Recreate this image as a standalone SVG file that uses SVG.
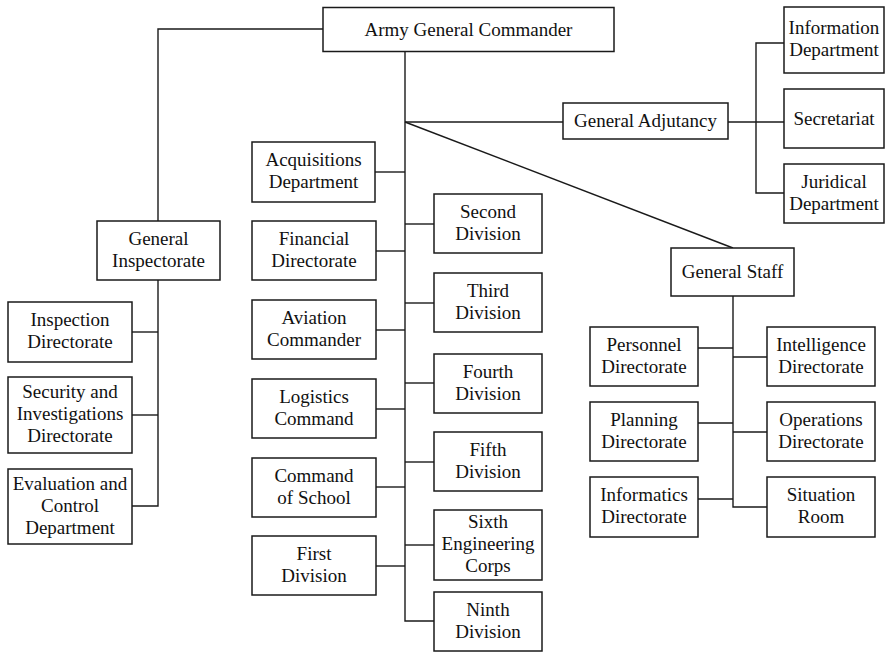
<svg xmlns="http://www.w3.org/2000/svg" width="895" height="652" viewBox="0 0 895 652">
  <style>
    .box rect { fill: #ffffff; stroke: #1a1a1a; stroke-width: 1.5; }
    .box text { font-family: "Liberation Serif", "Times New Roman", serif; font-size: 19px; fill: #111111; text-anchor: middle; }
    #connectors path { fill: none; stroke: #1a1a1a; stroke-width: 1.4; }
  </style>
  <rect width="895" height="652" fill="#ffffff"/>

  <g id="connectors">
    <!-- Commander to General Inspectorate -->
    <path d="M323,29 H158 V221"/>
    <path d="M158,280 V506 H132"/>
    <path d="M158,332 H132"/>
    <path d="M158,415 H132"/>
    <!-- Commander trunk -->
    <path d="M405,52 V621 H434"/>
    <path d="M405,172 H375"/>
    <path d="M405,251 H376"/>
    <path d="M405,330 H376"/>
    <path d="M405,409 H376"/>
    <path d="M405,487 H376"/>
    <path d="M405,566 H376"/>
    <path d="M405,224 H434"/>
    <path d="M405,303 H434"/>
    <path d="M405,383 H434"/>
    <path d="M405,462 H434"/>
    <path d="M405,545 H434"/>
    <!-- General Adjutancy branch -->
    <path d="M405,122 H563"/>
    <path d="M728,122 H784"/>
    <path d="M784,43 H756 V193 H784"/>
    <!-- General Staff branch -->
    <path d="M405,122 L733,248"/>
    <path d="M733,296 V507 H767"/>
    <path d="M698,348 H733"/>
    <path d="M698,423 H733"/>
    <path d="M698,499 H733"/>
    <path d="M733,357 H767"/>
    <path d="M733,432 H767"/>
  </g>

  <g id="army-general-commander" class="box">
    <rect x="323" y="7.5" width="291" height="44"/>
    <text x="468.5" y="36">Army General Commander</text>
  </g>

  <!-- Inspectorate column -->
  <g id="general-inspectorate" class="box">
    <rect x="97" y="221" width="123" height="59"/>
    <text x="158.5" y="245">General</text>
    <text x="158.5" y="267">Inspectorate</text>
  </g>
  <g id="inspection-directorate" class="box">
    <rect x="8" y="302" width="124" height="60"/>
    <text x="70" y="326">Inspection</text>
    <text x="70" y="348">Directorate</text>
  </g>
  <g id="security-investigations-directorate" class="box">
    <rect x="8" y="377" width="124" height="76"/>
    <text x="70" y="398">Security and</text>
    <text x="70" y="420">Investigations</text>
    <text x="70" y="442">Directorate</text>
  </g>
  <g id="evaluation-control-department" class="box">
    <rect x="8" y="469" width="124" height="75"/>
    <text x="70" y="490">Evaluation and</text>
    <text x="70" y="512">Control</text>
    <text x="70" y="534">Department</text>
  </g>

  <!-- Left of trunk -->
  <g id="acquisitions-department" class="box">
    <rect x="252" y="142" width="123" height="60"/>
    <text x="313.5" y="166">Acquisitions</text>
    <text x="313.5" y="188">Department</text>
  </g>
  <g id="financial-directorate" class="box">
    <rect x="252" y="221" width="124" height="59"/>
    <text x="314" y="245">Financial</text>
    <text x="314" y="267">Directorate</text>
  </g>
  <g id="aviation-commander" class="box">
    <rect x="252" y="300" width="124" height="59"/>
    <text x="314" y="324">Aviation</text>
    <text x="314" y="346">Commander</text>
  </g>
  <g id="logistics-command" class="box">
    <rect x="252" y="379" width="124" height="59"/>
    <text x="314" y="403">Logistics</text>
    <text x="314" y="425">Command</text>
  </g>
  <g id="command-of-school" class="box">
    <rect x="252" y="458" width="124" height="59"/>
    <text x="314" y="482">Command</text>
    <text x="314" y="504">of School</text>
  </g>
  <g id="first-division" class="box">
    <rect x="252" y="536" width="124" height="59"/>
    <text x="314" y="560">First</text>
    <text x="314" y="582">Division</text>
  </g>

  <!-- Right of trunk -->
  <g id="second-division" class="box">
    <rect x="434" y="194" width="108" height="59"/>
    <text x="488" y="218">Second</text>
    <text x="488" y="240">Division</text>
  </g>
  <g id="third-division" class="box">
    <rect x="434" y="273" width="108" height="59"/>
    <text x="488" y="297">Third</text>
    <text x="488" y="319">Division</text>
  </g>
  <g id="fourth-division" class="box">
    <rect x="434" y="354" width="108" height="59"/>
    <text x="488" y="378">Fourth</text>
    <text x="488" y="400">Division</text>
  </g>
  <g id="fifth-division" class="box">
    <rect x="434" y="432" width="108" height="59"/>
    <text x="488" y="456">Fifth</text>
    <text x="488" y="478">Division</text>
  </g>
  <g id="sixth-engineering-corps" class="box">
    <rect x="434" y="510" width="108" height="70"/>
    <text x="488" y="528">Sixth</text>
    <text x="488" y="550">Engineering</text>
    <text x="488" y="572">Corps</text>
  </g>
  <g id="ninth-division" class="box">
    <rect x="434" y="592" width="108" height="59"/>
    <text x="488" y="616">Ninth</text>
    <text x="488" y="638">Division</text>
  </g>

  <!-- General Adjutancy -->
  <g id="general-adjutancy" class="box">
    <rect x="563" y="103" width="165" height="36"/>
    <text x="645.5" y="127">General Adjutancy</text>
  </g>
  <g id="information-department" class="box">
    <rect x="784" y="7" width="100" height="66"/>
    <text x="834" y="34">Information</text>
    <text x="834" y="56">Department</text>
  </g>
  <g id="secretariat" class="box">
    <rect x="784" y="89" width="100" height="59"/>
    <text x="834" y="125">Secretariat</text>
  </g>
  <g id="juridical-department" class="box">
    <rect x="784" y="164" width="100" height="59"/>
    <text x="834" y="188">Juridical</text>
    <text x="834" y="210">Department</text>
  </g>

  <!-- General Staff -->
  <g id="general-staff" class="box">
    <rect x="671" y="248" width="123" height="48"/>
    <text x="732.5" y="278">General Staff</text>
  </g>
  <g id="personnel-directorate" class="box">
    <rect x="590" y="327" width="108" height="59"/>
    <text x="644" y="351">Personnel</text>
    <text x="644" y="373">Directorate</text>
  </g>
  <g id="planning-directorate" class="box">
    <rect x="590" y="402" width="108" height="59"/>
    <text x="644" y="426">Planning</text>
    <text x="644" y="448">Directorate</text>
  </g>
  <g id="informatics-directorate" class="box">
    <rect x="590" y="477" width="108" height="60"/>
    <text x="644" y="501">Informatics</text>
    <text x="644" y="523">Directorate</text>
  </g>
  <g id="intelligence-directorate" class="box">
    <rect x="767" y="327" width="108" height="59"/>
    <text x="821" y="351">Intelligence</text>
    <text x="821" y="373">Directorate</text>
  </g>
  <g id="operations-directorate" class="box">
    <rect x="767" y="402" width="108" height="59"/>
    <text x="821" y="426">Operations</text>
    <text x="821" y="448">Directorate</text>
  </g>
  <g id="situation-room" class="box">
    <rect x="767" y="477" width="108" height="60"/>
    <text x="821" y="501">Situation</text>
    <text x="821" y="523">Room</text>
  </g>
</svg>
